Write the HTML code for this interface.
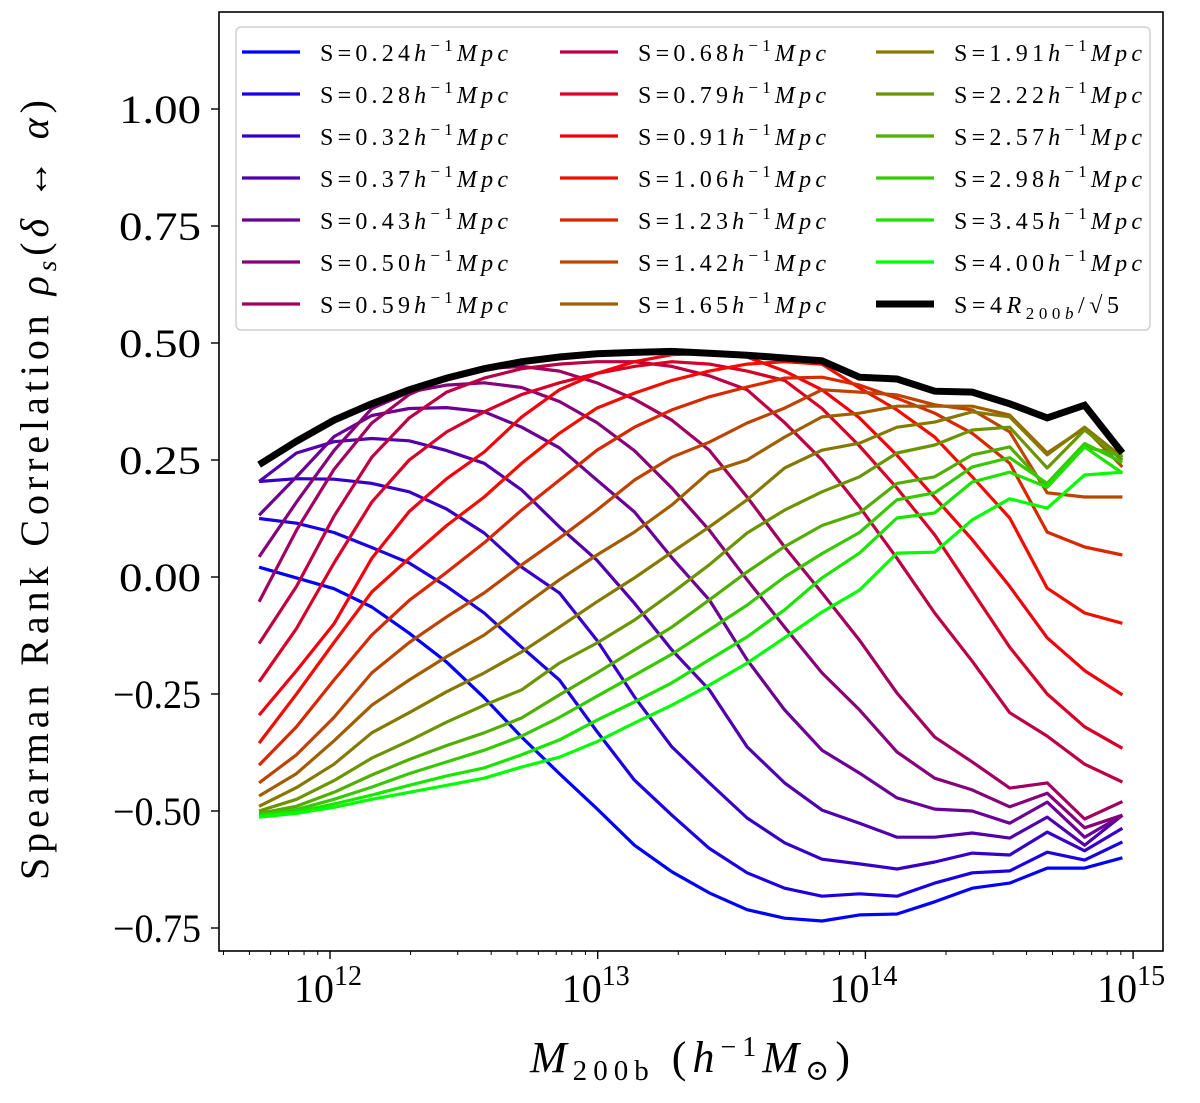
<!DOCTYPE html>
<html><head><meta charset="utf-8"><style>
html,body{margin:0;padding:0;background:#fff;}
svg{display:block;font-family:"Liberation Serif","DejaVu Serif",serif;}
</style></head><body>
<svg id="chart" width="1200" height="1103" viewBox="0 0 1200 1103" xmlns="http://www.w3.org/2000/svg">
<rect x="0" y="0" width="1200" height="1103" fill="#fff"/>
<g id="series"></g>
<g id="axes"></g>
<g id="legend"></g>
<text transform="translate(48,490) rotate(-90)" text-anchor="middle" font-size="40" textLength="780" lengthAdjust="spacing">Spearman Rank Correlation <tspan font-style="italic">ρ</tspan><tspan font-style="italic" font-size="27" dy="8">s</tspan><tspan dy="-8">(</tspan><tspan font-style="italic">δ</tspan> ↔ <tspan font-style="italic">α</tspan>)</text>
<text x="690" y="1072" text-anchor="middle" font-size="44" textLength="320" lengthAdjust="spacing"><tspan font-style="italic">M</tspan><tspan font-size="29" dy="8">200b</tspan><tspan dy="-8"> (</tspan><tspan font-style="italic">h</tspan><tspan font-size="28" dy="-16">−1</tspan><tspan font-style="italic" dy="16">M</tspan><tspan font-size="29" dy="8">⊙</tspan><tspan dy="-8">)</tspan></text>
</svg>
<script>
const logMass = [11.735,11.875,12.015,12.156,12.296,12.436,12.576,12.716,12.857,12.997,13.137,13.277,13.417,13.558,13.698,13.838,13.978,14.118,14.259,14.399,14.539,14.679,14.819,14.96];
const seriesLabels = ["0.24","0.28","0.32","0.37","0.43","0.50","0.59","0.68","0.79","0.91","1.06","1.23","1.42","1.65","1.91","2.22","2.57","2.98","3.45","4.00"];
const s024 = [0.021,-0.002,-0.025,-0.064,-0.12,-0.182,-0.258,-0.342,-0.42,-0.495,-0.573,-0.63,-0.675,-0.711,-0.729,-0.735,-0.722,-0.72,-0.694,-0.665,-0.654,-0.622,-0.622,-0.60];
const s028 = [0.125,0.115,0.095,0.063,0.03,-0.02,-0.077,-0.15,-0.22,-0.33,-0.434,-0.509,-0.58,-0.632,-0.665,-0.682,-0.677,-0.682,-0.654,-0.632,-0.628,-0.588,-0.605,-0.566];
const s032 = [0.204,0.21,0.209,0.2,0.182,0.145,0.094,0.021,-0.034,-0.135,-0.256,-0.363,-0.44,-0.515,-0.568,-0.603,-0.613,-0.624,-0.609,-0.59,-0.594,-0.545,-0.585,-0.537];
const s037 = [0.204,0.265,0.289,0.296,0.291,0.27,0.243,0.186,0.107,0.036,-0.056,-0.156,-0.241,-0.363,-0.44,-0.498,-0.526,-0.556,-0.556,-0.547,-0.558,-0.513,-0.573,-0.509];
const s043 = [0.132,0.214,0.30,0.345,0.36,0.362,0.353,0.32,0.276,0.207,0.139,0.041,-0.049,-0.177,-0.284,-0.37,-0.419,-0.472,-0.496,-0.5,-0.526,-0.481,-0.556,-0.509];
const s050 = [0.043,0.16,0.27,0.36,0.395,0.41,0.415,0.405,0.375,0.33,0.27,0.19,0.1,-0.006,-0.107,-0.205,-0.284,-0.374,-0.43,-0.455,-0.491,-0.462,-0.536,-0.509];
const s059 = [-0.053,0.1,0.23,0.329,0.39,0.425,0.445,0.45,0.44,0.415,0.38,0.335,0.271,0.171,0.064,-0.034,-0.135,-0.248,-0.342,-0.395,-0.451,-0.44,-0.517,-0.48];
const s068 = [-0.142,-0.02,0.13,0.256,0.34,0.395,0.425,0.445,0.455,0.46,0.46,0.45,0.43,0.40,0.33,0.25,0.15,0.04,-0.077,-0.18,-0.29,-0.34,-0.40,-0.438];
const s079 = [-0.224,-0.11,0.03,0.16,0.25,0.31,0.353,0.39,0.415,0.435,0.45,0.46,0.455,0.44,0.42,0.36,0.28,0.19,0.09,-0.03,-0.15,-0.25,-0.32,-0.366];
const s091 = [-0.295,-0.2,-0.1,0.04,0.14,0.21,0.267,0.342,0.40,0.435,0.46,0.475,0.478,0.47,0.44,0.40,0.34,0.26,0.17,0.08,-0.02,-0.13,-0.2,-0.252];
const s106 = [-0.355,-0.25,-0.14,-0.032,0.04,0.11,0.171,0.243,0.307,0.361,0.393,0.42,0.44,0.455,0.46,0.455,0.404,0.357,0.299,0.214,0.126,-0.024,-0.077,-0.099];
const s123 = [-0.402,-0.32,-0.22,-0.124,-0.05,0.01,0.073,0.143,0.207,0.271,0.32,0.357,0.385,0.406,0.425,0.427,0.41,0.382,0.35,0.307,0.243,0.096,0.064,0.047];
const s142 = [-0.44,-0.38,-0.3,-0.205,-0.14,-0.085,-0.034,0.026,0.083,0.143,0.207,0.256,0.288,0.329,0.361,0.40,0.395,0.389,0.368,0.357,0.31,0.18,0.171,0.171];
const s165 = [-0.468,-0.42,-0.35,-0.274,-0.22,-0.17,-0.124,-0.064,-0.006,0.047,0.096,0.154,0.224,0.25,0.299,0.342,0.35,0.365,0.365,0.365,0.346,0.265,0.318,0.235];
const s191 = [-0.49,-0.45,-0.40,-0.333,-0.29,-0.245,-0.205,-0.16,-0.107,-0.053,-0.002,0.053,0.107,0.165,0.233,0.271,0.286,0.32,0.331,0.353,0.342,0.261,0.32,0.256];
const s222 = [-0.50,-0.475,-0.435,-0.387,-0.35,-0.31,-0.274,-0.241,-0.184,-0.141,-0.092,-0.034,0.026,0.094,0.143,0.182,0.214,0.265,0.282,0.314,0.32,0.233,0.314,0.25];
const s257 = [-0.505,-0.49,-0.46,-0.423,-0.39,-0.36,-0.333,-0.301,-0.252,-0.205,-0.156,-0.107,-0.049,0.011,0.065,0.11,0.137,0.2,0.214,0.261,0.278,0.192,0.278,0.26];
const s298 = [-0.508,-0.497,-0.475,-0.449,-0.42,-0.395,-0.37,-0.34,-0.30,-0.255,-0.21,-0.165,-0.113,-0.06,0.0,0.05,0.095,0.165,0.18,0.235,0.255,0.2,0.285,0.245];
const s345 = [-0.51,-0.502,-0.485,-0.466,-0.445,-0.425,-0.408,-0.38,-0.348,-0.306,-0.267,-0.226,-0.177,-0.128,-0.07,-0.002,0.051,0.126,0.137,0.203,0.224,0.192,0.278,0.222];
const s400 = [-0.513,-0.505,-0.492,-0.475,-0.46,-0.445,-0.43,-0.406,-0.385,-0.352,-0.312,-0.274,-0.231,-0.184,-0.13,-0.075,-0.028,0.051,0.053,0.122,0.167,0.147,0.218,0.224];
const sBlack = [0.24,0.29,0.335,0.37,0.40,0.425,0.445,0.46,0.47,0.477,0.48,0.482,0.478,0.474,0.468,0.462,0.427,0.423,0.397,0.395,0.37,0.34,0.367,0.265];
const allSeries = [s024,s028,s032,s037,s043,s050,s059,s068,s079,s091,s106,s123,s142,s165,s191,s222,s257,s298,s345,s400];
const yTicks = [-0.75,-0.5,-0.25,0,0.25,0.5,0.75,1.0];
const yTickLabels = ["−0.75","−0.50","−0.25","0.00","0.25","0.50","0.75","1.00"];
const xTickExps = [12,13,14,15];

const NS = "http://www.w3.org/2000/svg";
const PL = 219, PR = 1163, PT = 12, PB = 951;
function xScale(lm){ return 330 + 267.7*(lm-12); }
function yScale(v){ return 577 - 468*v; }
function mk(tag, attrs, parent){ const e=document.createElementNS(NS,tag); for(const k in attrs) e.setAttribute(k,attrs[k]); parent.appendChild(e); return e; }
function brg(t){ let r,g,b; if(t<0.5){r=2*t;g=0;b=1-2*t;} else {r=2-2*t;g=2*t-1;b=0;} return "rgb("+Math.round(r*255)+","+Math.round(g*255)+","+Math.round(b*255)+")"; }
function pts(arr){ return arr.map((v,i)=>xScale(logMass[i]).toFixed(1)+","+yScale(v).toFixed(1)).join(" "); }

const sg = document.getElementById("series");
allSeries.forEach((arr,k)=>{
  const pl = mk("polyline",{points:pts(arr),fill:"none",stroke:brg(k/19),"stroke-width":3.2,"stroke-linejoin":"round"},sg);
  
  
});
const bl = mk("polyline",{points:pts(sBlack),fill:"none",stroke:"#000","stroke-width":7,"stroke-linejoin":"miter"},sg);



const ax = document.getElementById("axes");
const frame = mk("rect",{x:PL,y:PT,width:PR-PL,height:PB-PT,fill:"none",stroke:"#000","stroke-width":1.6},ax);


yTicks.forEach((v,i)=>{
  const y=yScale(v);
  mk("line",{x1:PL,x2:PL-8,y1:y,y2:y,stroke:"#000","stroke-width":1.4},ax);
  const t=mk("text",{x:PL-18,y:y+14,"text-anchor":"end","font-size":40,textLength:(v<0?88:82),lengthAdjust:"spacingAndGlyphs"},ax);
  t.textContent=yTickLabels[i];
  
  
});
for(let e=11;e<=15;e++){
  for(let m=1;m<10;m++){
    const lm=e+Math.log10(m); const x=xScale(lm);
    if(x<PL||x>PR) continue;
    if(m===1){
      mk("line",{x1:x,x2:x,y1:PB,y2:PB+8,stroke:"#000","stroke-width":1.4},ax);
    } else {
      mk("line",{x1:x,x2:x,y1:PB,y2:PB+4,stroke:"#000","stroke-width":1},ax);
    }
  }
}
xTickExps.forEach(e=>{
  const x=xScale(e);
  const t=mk("text",{x:x-2,y:1002,"text-anchor":"middle","font-size":40},ax);
  t.innerHTML='10<tspan font-size="28" dy="-17">'+e+'</tspan>';
  
  
});

const lg = document.getElementById("legend");
const box = mk("rect",{x:236,y:27,width:914,height:303,rx:5,fill:"#fff","fill-opacity":0.8,stroke:"#d0d0d0","stroke-width":1.5},lg);


const colX=[242,560,876];
for(let k=0;k<21;k++){
  const c=Math.floor(k/7), r=k%7;
  const x=colX[c], y=52+r*42;
  const g=mk("g",{},lg);
  
  
  if(k<20){
    mk("line",{x1:x,x2:x+58,y1:y,y2:y,stroke:brg(k/19),"stroke-width":3.2},g);
    const t=mk("text",{x:x+78,y:y+9,"font-size":24,textLength:188,lengthAdjust:"spacing"},g);
    t.innerHTML='S='+seriesLabels[k]+'<tspan font-style="italic">h</tspan><tspan font-size="17" dy="-10">−1</tspan><tspan font-style="italic" dy="10">Mpc</tspan>';
  } else {
    mk("line",{x1:x,x2:x+58,y1:y,y2:y,stroke:"#000","stroke-width":7},g);
    const t=mk("text",{x:x+78,y:y+9,"font-size":24,textLength:165,lengthAdjust:"spacing"},g);
    t.innerHTML='S=4<tspan font-style="italic">R</tspan><tspan font-size="17" dy="6">200<tspan font-style="italic">b</tspan></tspan><tspan dy="-6">/√5</tspan>';
  }
}
</script>
</body></html>
